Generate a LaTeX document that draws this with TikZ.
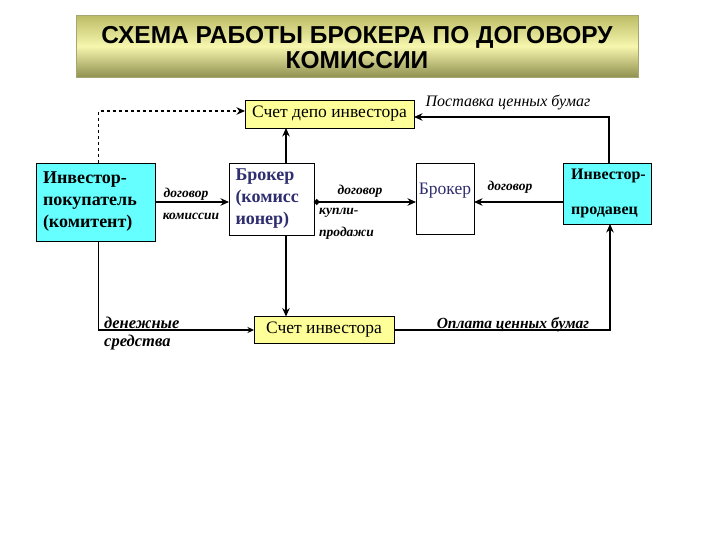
\documentclass[tikz,border=0pt]{standalone}
\usepackage{fontspec}
\setmainfont{Liberation Serif}
\newfontfamily\titlefont{Liberation Sans}
\usetikzlibrary{arrows.meta}
\definecolor{cyanbox}{HTML}{66FFFF}
\definecolor{yelbox}{HTML}{FFFF99}
\definecolor{navytext}{HTML}{2E2E70}
\definecolor{oliveT}{HTML}{BCBC66}
\definecolor{oliveM}{HTML}{F6F6AE}
\definecolor{oliveB}{HTML}{909050}
\begin{document}
\begin{tikzpicture}[x=1pt,y=-1pt,
  box/.style={draw=black, line width=0.9pt, inner sep=0pt, outer sep=0pt},
  boxtext/.style={font=\fontsize{18}{22}\selectfont\bfseries},
  tip/.style={-{Stealth[length=8.5pt,width=7.5pt]}},
  smalltip/.style={-{Stealth[length=6.5pt,width=6pt]}},
  conn/.style={line width=2.2pt, tip},
  thinconn/.style={line width=1.2pt, smalltip},
  lbl/.style={font=\fontsize{13.5}{15}\selectfont\bfseries\itshape, inner sep=0pt},
  biglbl/.style={font=\fontsize{16}{18}\selectfont\itshape, inner sep=0pt}
]
\useasboundingbox (0,0) rectangle (720,540);
% title
\node[shade, top color=oliveT, bottom color=oliveB, middle color=oliveM,
      draw=oliveB!80, line width=0.5pt,
      minimum width=562pt, minimum height=62pt, anchor=north west] (title) at (76,15) {};
\node[align=center, font=\titlefont\bfseries\fontsize{24.5}{25}\selectfont] (titletext) at (357,47.5)
  {СХЕМА РАБОТЫ БРОКЕРА ПО ДОГОВОРУ\\КОМИССИИ};
% boxes
\node[box, fill=yelbox, minimum width=169pt, minimum height=28pt,
      font=\fontsize{17.5}{20}\selectfont] (depo) at (329.5,114) {Счет депо инвестора};
\node[box, fill=cyanbox, minimum width=119pt, minimum height=78pt,
      boxtext, align=left, text width=105pt] (invB) at (95.5,202)
  {Инвестор-\\покупатель\\(комитент)};
\node[box, fill=white, minimum width=85pt, minimum height=72pt,
      boxtext, text=navytext, align=left, text width=72pt] (brk1) at (271.5,199)
  {Брокер\\(комисс\\ионер)};
\node[box, fill=white, minimum width=58pt, minimum height=71pt] (brk2) at (445,198.5) {};
\node[font=\fontsize{17.5}{20}\selectfont, text=navytext, inner sep=0pt] (brk2t) at (445,191) {Брокер};
\node[box, fill=cyanbox, minimum width=88pt, minimum height=61pt] (invS) at (607,193.5) {};
\node[font=\fontsize{16}{18}\selectfont\bfseries, inner sep=0pt, anchor=west] (invSt1) at (571,176) {Инвестор-};
\node[font=\fontsize{16}{18}\selectfont\bfseries, inner sep=0pt, anchor=west] (invSt2) at (571,212) {продавец};
\node[box, fill=yelbox, minimum width=140pt, minimum height=27pt,
      font=\fontsize{17.5}{20}\selectfont] (acc) at (324,330) {Счет инвестора};
\coordinate (corner) at ([xshift=3pt]invS.south |- acc.east);
% connectors
\draw[line width=1.5pt, dashed, tip]
  ([xshift=3pt]invB.north) |- ([yshift=3pt]depo.west);
\draw[conn] ([xshift=14.5pt]brk1.north) -- ([xshift=14.5pt]brk1.north |- depo.south);
\draw[conn] (invB.east) -- (invB.east -| brk1.west);
\draw[line width=2.2pt, {Circle[length=5.5pt]}-{Stealth[length=8.5pt,width=7.5pt]}]
  (brk1.east |- invB.east) -- (brk2.west |- invB.east);
\draw[conn] (invS.west |- invB.east) -- (brk2.east |- invB.east);
\draw[conn] ([xshift=2pt]invS.north) |- ([yshift=-3pt]depo.east);
\draw[conn] ([xshift=14.5pt]brk1.south) -- ([xshift=14.5pt]brk1.south |- acc.north);
\draw[thinconn] ([xshift=3pt]invB.south) |- (acc.west);
\draw[line width=1.2pt] (acc.east) -- ([xshift=1pt]corner);
\draw[conn] ([yshift=-0.6pt]corner) -- ([xshift=3pt]invS.south);
% labels
\node[lbl] (l1) at (186,194) {договор};
\node[lbl] (l2) at (191,216) {комиссии};
\node[lbl] (l3) at (360,191) {договор};
\node[lbl, anchor=west] (l4) at (319,213) {купли-};
\node[lbl, anchor=west] (l5) at (319,233) {продажи};
\node[lbl] (l6) at (510,187) {договор};
\node[biglbl] (l7) at (508,103) {Поставка ценных бумаг};
\node[lbl, font=\fontsize{16.5}{18}\selectfont\bfseries\itshape, anchor=west] (l8) at (104,323) {денежные};
\node[lbl, font=\fontsize{16.5}{18}\selectfont\bfseries\itshape, anchor=west] (l9) at (104,343) {средства};
\node[lbl, font=\fontsize{15.5}{17}\selectfont\bfseries\itshape] (l10) at (513,325) {Оплата ценных бумаг};
\end{tikzpicture}
\end{document}
